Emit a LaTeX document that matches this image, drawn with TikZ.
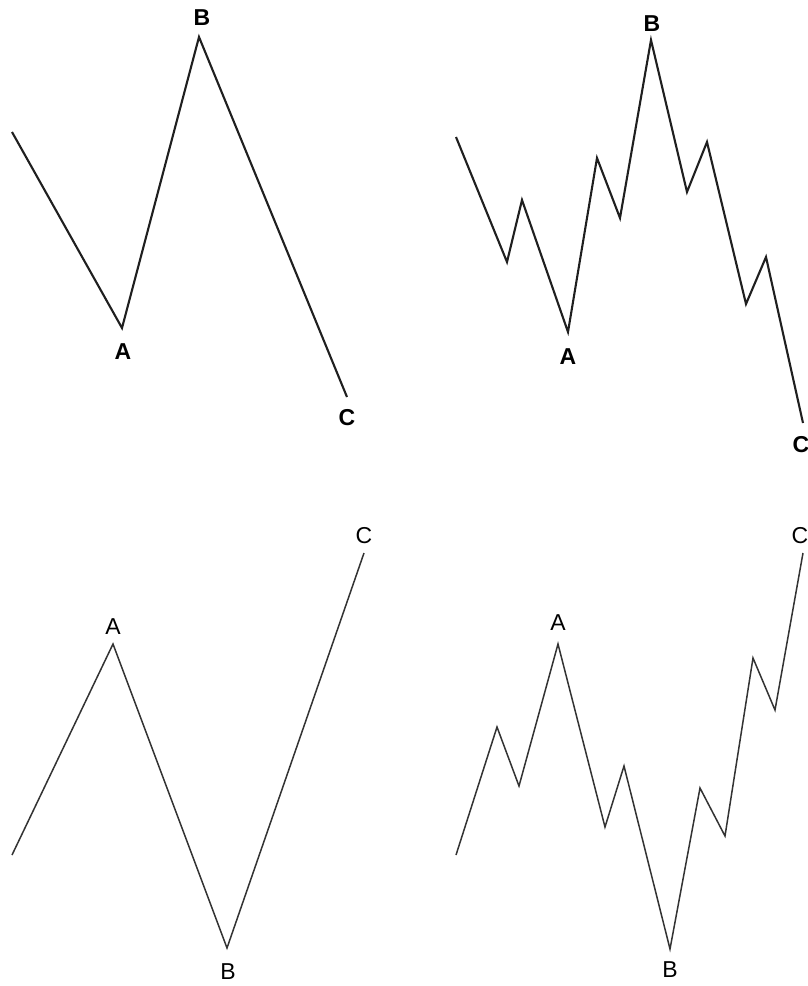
\documentclass[tikz,border=0pt]{standalone}
\usepackage{fontspec}
\setmainfont{Liberation Sans}
\begin{document}
\begin{tikzpicture}[x=1pt,y=-1pt,
  wavethick/.style={draw=black!88,line width=2.1pt,line join=miter},
  wavethin/.style={draw=black!80,line width=1.5pt,line join=miter},
  lblbold/.style={inner sep=0pt,font=\fontsize{23}{23}\selectfont\bfseries},
  lblreg/.style={inner sep=0pt,font=\fontsize{23}{23}\selectfont}]
\useasboundingbox (0,0) rectangle (808,986);
\fill[white] (0,0) rectangle (808,986);

% Panel 1 (top-left)
\coordinate (p1s) at (12,132);
\coordinate (p1a) at (122,328);
\coordinate (p1b) at (199,37);
\coordinate (p1c) at (347,397);
\draw[wavethick] (p1s) -- (p1a) -- (p1b) -- (p1c);
\node[lblbold] (l1b) at (202,18) {B};
\node[lblbold] (l1a) at (123,352) {A};
\node[lblbold] (l1c) at (347,418) {C};

% Panel 2 (top-right)
\coordinate (q0) at (456,137);
\coordinate (q1) at (507,262);
\coordinate (q2) at (522,200);
\coordinate (qa) at (568,332);
\coordinate (q3) at (597,158);
\coordinate (q4) at (620,218);
\coordinate (qb) at (651,40);
\coordinate (q5) at (687,192);
\coordinate (q6) at (707,142);
\coordinate (q7) at (746,304);
\coordinate (q8) at (766,257);
\coordinate (qc) at (803,423);
\draw[wavethick] (q0) -- (q1) -- (q2) -- (qa) -- (q3) -- (q4) -- (qb) -- (q5) -- (q6) -- (q7) -- (q8) -- (qc);
\node[lblbold] (l2b) at (652,24) {B};
\node[lblbold] (l2a) at (568,357) {A};
\node[lblbold] (l2c) at (801,445) {C};

% Panel 3 (bottom-left)
\coordinate (r0) at (12,855);
\coordinate (ra) at (113,644);
\coordinate (rb) at (227,948);
\coordinate (rc) at (364,553);
\draw[wavethin] (r0) -- (ra) -- (rb) -- (rc);
\node[lblreg] (l3a) at (113,627) {A};
\node[lblreg] (l3b) at (228,972) {B};
\node[lblreg] (l3c) at (364,536) {C};

% Panel 4 (bottom-right)
\coordinate (s0) at (456,855);
\coordinate (s1) at (497,727);
\coordinate (s2) at (519,786);
\coordinate (sa) at (558,644);
\coordinate (s3) at (605,827);
\coordinate (s4) at (624,766);
\coordinate (sb) at (670,949);
\coordinate (s5) at (700,788);
\coordinate (s6) at (725,836);
\coordinate (s7) at (753,658);
\coordinate (s8) at (775,710);
\coordinate (sc) at (803,553);
\draw[wavethin] (s0) -- (s1) -- (s2) -- (sa) -- (s3) -- (s4) -- (sb) -- (s5) -- (s6) -- (s7) -- (s8) -- (sc);
\node[lblreg] (l4a) at (558,623) {A};
\node[lblreg] (l4b) at (670,970) {B};
\node[lblreg] (l4c) at (800,536) {C};
\end{tikzpicture}
\end{document}
